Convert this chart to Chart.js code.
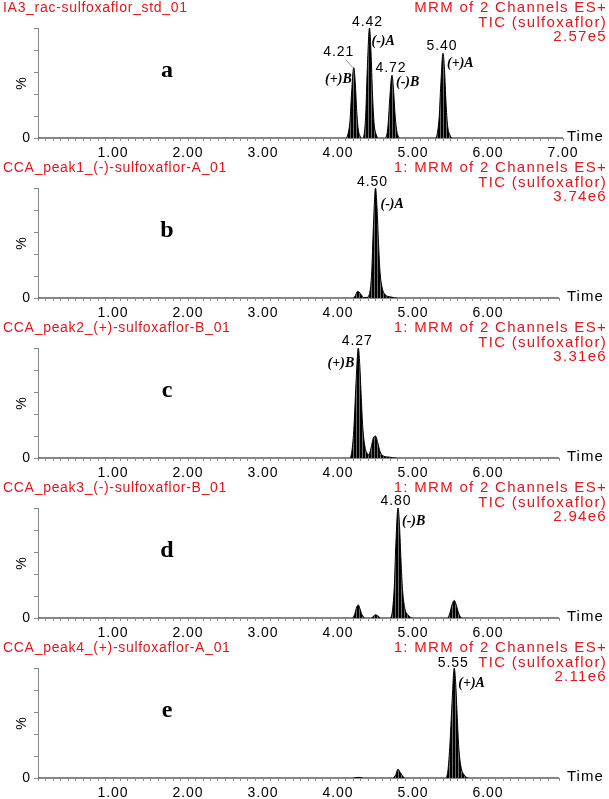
<!DOCTYPE html>
<html>
<head>
<meta charset="utf-8">
<script src="https://cdn.jsdelivr.net/npm/chart.js@4"></script>
<style>
  html, body { margin: 0; padding: 0; background: #fff; overflow: hidden; }
  canvas { display: block; }
</style>
</head>
<body>
<canvas id="panel0" width="609" height="160"></canvas>
<canvas id="panel1" width="609" height="160"></canvas>
<canvas id="panel2" width="609" height="160"></canvas>
<canvas id="panel3" width="609" height="160"></canvas>
<canvas id="panel4" width="609" height="160"></canvas>
<script>
// sample names, channel lines and full-scale intensity per panel
const sampleNames = [
  'IA3_rac-sulfoxaflor_std_01',
  'CCA_peak1_(-)-sulfoxaflor-A_01',
  'CCA_peak2_(+)-sulfoxaflor-B_01',
  'CCA_peak3_(-)-sulfoxaflor-B_01',
  'CCA_peak4_(+)-sulfoxaflor-A_01',
];
const channelNames = [
  'MRM of 2 Channels ES+',
  '1: MRM of 2 Channels ES+',
  '1: MRM of 2 Channels ES+',
  '1: MRM of 2 Channels ES+',
  '1: MRM of 2 Channels ES+',
];
const traceName = 'TIC (sulfoxaflor)';
const fullScale = ['2.57e5', '3.74e6', '3.31e6', '2.94e6', '2.11e6'];
const panelLetters = ['a', 'b', 'c', 'd', 'e'];
const timeMax = [7.0, 6.95, 6.95, 6.95, 6.95];
const timeTicks = [1, 2, 3, 4, 5, 6, 7];

// chromatograms: [time (min), relative intensity (%)]
const traceA = [
  [0, 0], [4.10, 0], [4.13, 3], [4.16, 16], [4.18, 40], [4.21, 64], [4.23, 50], [4.25, 24], [4.27, 8], [4.30, 1], [4.32, 0],
  [4.33, 0], [4.35, 4], [4.37, 22], [4.39, 62], [4.42, 100], [4.44, 78], [4.46, 40], [4.48, 14], [4.51, 3], [4.54, 0],
  [4.62, 0], [4.65, 3], [4.67, 14], [4.69, 36], [4.72, 57], [4.74, 44], [4.76, 22], [4.78, 8], [4.81, 1], [4.84, 0],
  [5.29, 0], [5.32, 3], [5.35, 20], [5.37, 48], [5.40, 77], [5.42, 62], [5.44, 32], [5.46, 12], [5.49, 3], [5.53, 0], [7.0, 0],
];
const traceB = [
  [0, 0], [4.20, 0], [4.23, 2], [4.26, 6], [4.28, 5.5], [4.31, 3], [4.34, 0.5], [4.38, 0.5],
  [4.42, 4], [4.45, 24], [4.47, 62], [4.50, 100], [4.52, 82], [4.54, 50], [4.56, 24], [4.59, 9], [4.63, 3], [4.70, 1], [4.80, 0], [6.95, 0],
];
const traceC = [
  [0, 0], [4.15, 0], [4.18, 4], [4.21, 25], [4.24, 68], [4.27, 100], [4.29, 85], [4.31, 55], [4.33, 28], [4.36, 10], [4.39, 4], [4.41, 3],
  [4.44, 9], [4.47, 18], [4.50, 20], [4.53, 14], [4.56, 6], [4.60, 2], [4.66, 1], [4.80, 0], [6.95, 0],
];
const traceD = [
  [0, 0], [4.19, 0], [4.22, 3], [4.25, 10], [4.27, 12], [4.29, 9], [4.32, 3], [4.36, 0],
  [4.44, 0], [4.48, 2], [4.50, 3], [4.53, 2], [4.57, 0],
  [4.69, 0], [4.72, 4], [4.75, 28], [4.77, 65], [4.80, 100], [4.82, 84], [4.84, 52], [4.86, 26], [4.89, 9], [4.93, 3], [5.00, 0],
  [5.46, 0], [5.49, 4], [5.52, 12], [5.55, 16], [5.58, 11], [5.61, 4], [5.65, 0], [6.95, 0],
];
const traceE = [
  [0, 0], [4.20, 0], [4.27, 0.6], [4.34, 0],
  [4.73, 0], [4.77, 3], [4.80, 8], [4.83, 5], [4.87, 1], [4.90, 0],
  [5.43, 0], [5.46, 4], [5.49, 28], [5.52, 68], [5.55, 100], [5.57, 85], [5.59, 55], [5.61, 28], [5.64, 10], [5.68, 3], [5.75, 0], [6.95, 0],
];
const traces = [traceA, traceB, traceC, traceD, traceE];

// peak annotations: retention time label and enantiomer name at each apex
const peakTimes = [
  [[4.21, 64], [4.42, 100], [4.72, 57], [5.40, 77]],
  [[4.50, 100]],
  [[4.27, 100]],
  [[4.80, 100]],
  [[5.55, 100]],
];
const isomerNames = [
  ['(+)B', '(-)A', '(-)B', '(+)A'],
  ['(-)A'],
  ['(+)B'],
  ['(-)B'],
  ['(+)A'],
];

// label placement relative to apex (pixels)
const timeLabelOffset = [
  [[-15, -15], [-2, -6], [-1, -7], [-1, -7]],
  [[-3, -6]], [[-1, -7]], [[-2, -7]], [[-1, -5]],
];
const nameLabelOffset = [
  [[-2, 12, 'right'], [2, 13, 'left'], [4, 7, 'left'], [4, 10, 'left']],
  [[5, 16, 'left']], [[-4, 15, 'right']], [[4, 13, 'left']], [[4, 15, 'left']],
];

const RED = '#e8141b';
const AXIS = '#8a8a8a';
const SANS = '"Liberation Sans", Arial, sans-serif';
const SERIF = '"Liberation Serif", "Times New Roman", serif';

function stripes(ctx) {
  const c = document.createElement('canvas');
  c.width = 3; c.height = 1;
  const g = c.getContext('2d');
  g.fillStyle = '#000'; g.fillRect(0, 0, 3, 1);
  g.fillStyle = '#6a6a6a'; g.fillRect(2, 0, 1, 1);
  return ctx.createPattern(c, 'repeat');
}

const annotate = {
  id: 'annotate',
  beforeDraw(chart) {
    chart.ctx.letterSpacing = '1px';
  },
  afterDraw(chart) {
    const i = chart.options.plugins.annotate.panel;
    const { ctx, scales: { x, y } } = chart;
    ctx.save();
    ctx.textBaseline = 'middle';
    ctx.fillStyle = RED;
    ctx.letterSpacing = '0.7px';
    ctx.font = `14px ${SANS}`;
    ctx.textAlign = 'left';
    ctx.fillText(sampleNames[i], 3, 8);
    ctx.letterSpacing = '1.3px';
    ctx.font = `15px ${SANS}`;
    ctx.textAlign = 'right';
    [channelNames[i], traceName, fullScale[i]].forEach((t, k) => ctx.fillText(t, 607, 8 + 14.5 * k));

    ctx.fillStyle = '#000';
    ctx.letterSpacing = '1px';
    ctx.textAlign = 'left';
    ctx.font = `15px ${SANS}`;
    ctx.fillText('Time', 567, y.getPixelForValue(0) - 1);

    ctx.save();
    ctx.translate(22, (y.top + y.bottom) / 2);
    ctx.rotate(-Math.PI / 2);
    ctx.textAlign = 'center';
    ctx.font = `14px ${SANS}`;
    ctx.fillText('%', 0, 0);
    ctx.restore();

    ctx.letterSpacing = '0px';
    ctx.textAlign = 'center';
    ctx.font = `bold 24px ${SERIF}`;
    ctx.fillText(panelLetters[i], 167, 71);

    peakTimes[i].forEach(([t, h], k) => {
      const px = x.getPixelForValue(t), py = y.getPixelForValue(h);
      const [dx, dy] = timeLabelOffset[i][k];
      ctx.letterSpacing = '1px';
      ctx.font = `14px ${SANS}`;
      ctx.textAlign = 'center';
      ctx.fillText(t.toFixed(2), px + dx, py + dy);
      if (dx < -8) {
        ctx.strokeStyle = '#999';
        ctx.lineWidth = 1;
        ctx.beginPath();
        ctx.moveTo(px + dx + 7, py + dy + 7);
        ctx.lineTo(px - 1, py);
        ctx.stroke();
      }
      const [nx, ny, al] = nameLabelOffset[i][k];
      ctx.letterSpacing = '0px';
      ctx.font = `italic bold 14px ${SERIF}`;
      ctx.textAlign = al;
      ctx.fillText(isomerNames[i][k], px + nx, py + ny);
    });
    ctx.restore();
  },
};

traces.forEach((trace, i) => {
  const canvas = document.getElementById('panel' + i);
  const ctx = canvas.getContext('2d');
  new Chart(canvas, {
    type: 'line',
    data: {
      datasets: [{
        data: trace.map(([t, v]) => ({ x: t, y: v })),
        borderColor: '#000',
        borderWidth: 1,
        backgroundColor: stripes(ctx),
        fill: 'origin',
        pointRadius: 0,
        cubicInterpolationMode: 'monotone',
      }],
    },
    options: {
      responsive: false,
      animation: false,
      events: [],
      layout: { padding: { top: 28, right: 609 - (38 + 75 * timeMax[i]), bottom: 0, left: 0 } },
      plugins: {
        legend: { display: false },
        tooltip: { enabled: false },
        annotate: { panel: i },
      },
      scales: {
        x: {
          type: 'linear',
          min: 0,
          max: timeMax[i],
          afterFit: s => { s.height = 22; },
          border: { color: AXIS, width: 1 },
          grid: { drawOnChartArea: false, tickLength: 3, color: AXIS },
          ticks: {
            stepSize: 0.1,
            autoSkip: false,
            maxRotation: 0,
            padding: 4,
            color: '#000',
            font: { family: SANS, size: 14 },
            callback: v => {
              const r = Math.round(v);
              return Math.abs(v - r) < 1e-6 && timeTicks.includes(r) ? r.toFixed(2) : '';
            },
          },
        },
        y: {
          min: 0,
          max: 100,
          afterFit: s => { s.width = 38; },
          border: { color: AXIS, width: 1 },
          grid: { drawOnChartArea: false, tickLength: 4, color: AXIS },
          ticks: {
            stepSize: 10,
            padding: 3,
            color: '#000',
            font: { family: SANS, size: 14 },
            callback: v => (v === 0 ? '0' : ''),
          },
        },
      },
    },
    plugins: [annotate],
  });
});
</script>
</body>
</html>
